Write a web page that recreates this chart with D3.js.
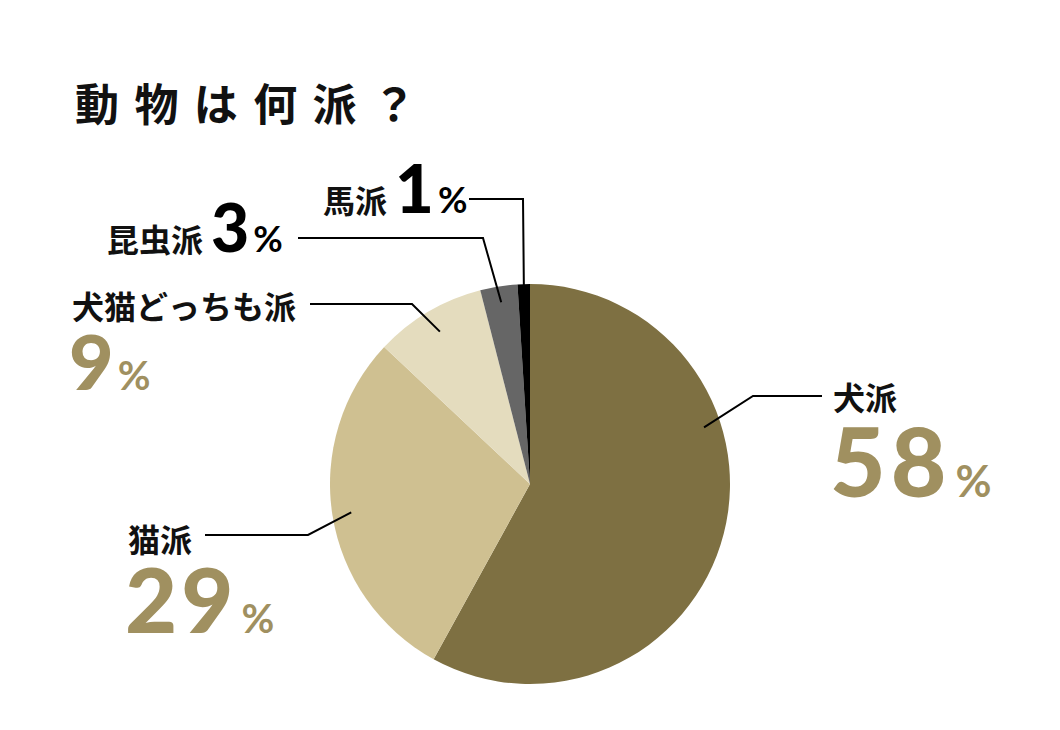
<!DOCTYPE html>
<html>
<head>
<meta charset="utf-8">
<script src="https://cdn.jsdelivr.net/npm/d3@7"></script>
<style>
  body { margin: 0; background: #fff; }
  .jp { font-family: "Noto Sans CJK JP", sans-serif; font-weight: 700; fill: #111; }
  .num { font-family: Lato, "Noto Sans", sans-serif; font-weight: 900; }
</style>
</head>
<body>
<svg width="1060" height="730"></svg>
<script>
var labels = ["犬派", "猫派", "犬猫どっちも派", "昆虫派", "馬派"];
var values = [58, 29, 9, 3, 1];
var colors = ["#7e7042", "#cfc091", "#e4dcbe", "#666666", "#000000"];
var titleChars = ["動", "物", "は", "何", "派", "？"];

// label layout: anchor angle override (deg), elbow, end of line, text position, font sizes
var layout = [
  { ang: 72, r: 183, elbow: [753, 396], endX: 822, tx: 833, ty: 410, big: 96, pct: 44, dy: 87, ls: 5, numCol: "#a09060", inline: false },
  { ang: null, r: 181, elbow: [308, 535], endX: 205, tx: 128, ty: 552, big: 90, pct: 40, dy: 81, ls: 4, numCol: "#a09060", inline: false },
  { ang: null, r: 177, elbow: [412, 304], endX: 310, tx: 72, ty: 319, big: 77, pct: 40, dy: 71, ls: 0, numCol: "#a09060", inline: false },
  { ang: null, r: 184, elbow: [483, 238], endX: 298, tx: 107, ty: 252, big: 66, pct: 36, dy: 0, ls: 0, numCol: "#000", inline: true },
  { ang: null, r: 194, elbow: [523, 199], endX: 469, tx: 323, ty: 213, big: 67, pct: 36, dy: 0, ls: 0, numCol: "#000", inline: true }
];

var cx = 530, cy = 484, radius = 200;
var svg = d3.select("svg");

// title, one glyph per 57px step
var tx = d3.scaleLinear().domain([0, 5]).range([75, 372]);
svg.append("text")
  .attr("class", "jp")
  .attr("y", 121)
  .style("font-size", "44px")
  .selectAll("tspan")
  .data(titleChars)
  .enter().append("tspan")
  .attr("x", function (d, i) { return tx(i); })
  .text(function (d) { return d; });

var pie = d3.pie().sort(null).value(function (d) { return d; });
var arc = d3.arc().innerRadius(0).outerRadius(radius);
var arcs = pie(values);

var g = svg.append("g").attr("transform", "translate(" + cx + "," + cy + ")");
g.selectAll("path")
  .data(arcs)
  .enter().append("path")
  .attr("d", arc)
  .style("fill", function (d, i) { return colors[i]; });

arcs.forEach(function (d, i) {
  var L = layout[i];
  var a = L.ang != null ? L.ang * Math.PI / 180 : (d.startAngle + d.endAngle) / 2;
  var x0 = cx + L.r * Math.sin(a), y0 = cy - L.r * Math.cos(a);
  svg.append("path")
    .attr("d", d3.line()([[x0, y0], L.elbow, [L.endX, L.elbow[1]]]))
    .style("fill", "none").style("stroke", "#000").style("stroke-width", 2);

  var t = svg.append("text").attr("class", "jp")
    .attr("x", L.tx).attr("y", L.ty)
    .style("font-size", "32px")
    .text(labels[i]);

  var num = svg.append("text").attr("class", "num").style("fill", L.numCol);
  if (L.inline) {
    var w = t.node().getComputedTextLength();
    num.attr("x", L.tx + w + 8).attr("y", L.ty);
  } else {
    num.attr("x", L.tx - 3).attr("y", L.ty + L.dy);
  }
  num.append("tspan").style("font-size", L.big + "px").style("letter-spacing", L.ls + "px").text(values[i]);
  num.append("tspan").attr("dx", 4).style("font-size", L.pct + "px").style("font-weight", 700).text("%");
});
</script>
</body>
</html>
